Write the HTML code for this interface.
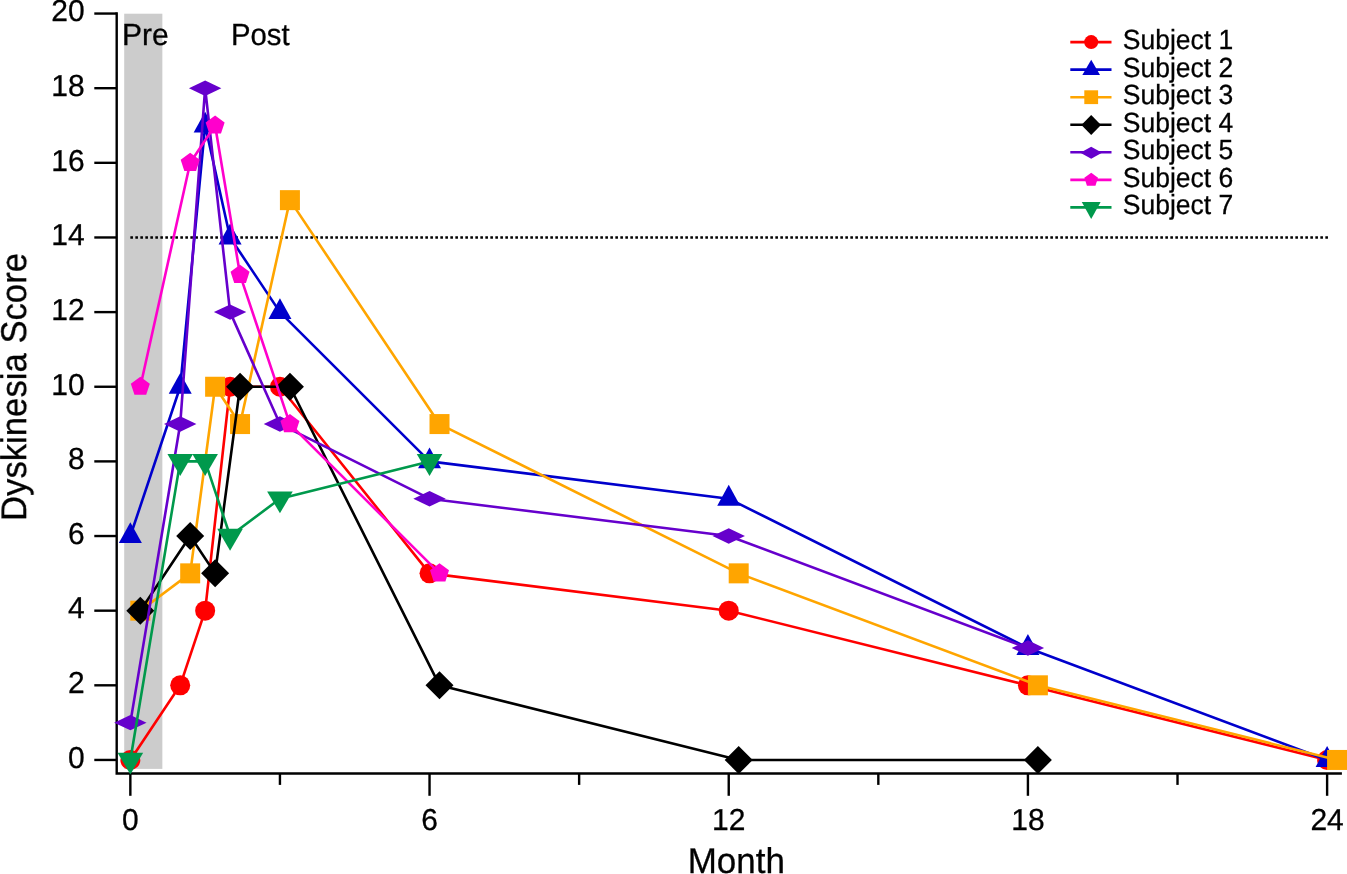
<!DOCTYPE html>
<html><head><meta charset="utf-8"><style>
html,body{margin:0;padding:0;background:#fff;}
body{width:1347px;height:874px;overflow:hidden;}
svg{display:block;}
.t{opacity:0.999;}
</style></head><body>
<svg width="1347" height="874" viewBox="0 0 1347 874" font-family="Liberation Sans, sans-serif">
<rect x="124.2" y="13.7" width="38.15" height="755.2" fill="#cccccc"/>
<line x1="130.35" y1="237.47" x2="1328.11" y2="237.47" stroke="#000" stroke-width="2.4" stroke-dasharray="2.6 2.4"/>
<g stroke="#000" stroke-width="2.4" fill="none">
<path d="M116.7,12.35 V774.7 M115.5,773.45 H1341.9"/>
<path d="M94.3,759.95 H116.5"/>
<path d="M94.3,685.31 H116.5"/>
<path d="M94.3,610.67 H116.5"/>
<path d="M94.3,536.03 H116.5"/>
<path d="M94.3,461.39 H116.5"/>
<path d="M94.3,386.75 H116.5"/>
<path d="M94.3,312.11 H116.5"/>
<path d="M94.3,237.47 H116.5"/>
<path d="M94.3,162.83 H116.5"/>
<path d="M94.3,88.19 H116.5"/>
<path d="M94.3,13.55 H116.5"/>
<path d="M130.35,773.5 V795.8"/>
<path d="M429.54,773.5 V795.8"/>
<path d="M728.73,773.5 V795.8"/>
<path d="M1027.92,773.5 V795.8"/>
<path d="M1327.11,773.5 V795.8"/>
<path d="M279.94,773.5 V784.9"/>
<path d="M579.13,773.5 V784.9"/>
<path d="M878.33,773.5 V784.9"/>
<path d="M1177.51,773.5 V784.9"/>
</g>
<polyline points="130.35,759.95 180.22,685.31 205.15,610.67 230.08,386.75 279.94,386.75 429.54,573.35 728.73,610.67 1027.92,685.31 1327.11,759.95" fill="none" stroke="#ff0000" stroke-width="2.6" stroke-linejoin="round"/>
<circle cx="130.35" cy="759.95" r="10" fill="#ff0000"/>
<circle cx="180.22" cy="685.31" r="10" fill="#ff0000"/>
<circle cx="205.15" cy="610.67" r="10" fill="#ff0000"/>
<circle cx="230.08" cy="386.75" r="10" fill="#ff0000"/>
<circle cx="279.94" cy="386.75" r="10" fill="#ff0000"/>
<circle cx="429.54" cy="573.35" r="10" fill="#ff0000"/>
<circle cx="728.73" cy="610.67" r="10" fill="#ff0000"/>
<circle cx="1027.92" cy="685.31" r="10" fill="#ff0000"/>
<circle cx="1327.11" cy="759.95" r="10" fill="#ff0000"/>
<polyline points="130.35,536.03 180.22,386.75 205.15,125.51 230.08,237.47 279.94,312.11 429.54,461.39 728.73,498.71 1027.92,647.99 1327.11,759.95" fill="none" stroke="#0000cc" stroke-width="2.6" stroke-linejoin="round"/>
<polygon points="130.35,522.16 141.85,542.96 118.85,542.96" fill="#0000cc"/>
<polygon points="180.22,372.88 191.72,393.68 168.72,393.68" fill="#0000cc"/>
<polygon points="205.15,111.64 216.65,132.44 193.65,132.44" fill="#0000cc"/>
<polygon points="230.08,223.6 241.58,244.4 218.58,244.4" fill="#0000cc"/>
<polygon points="279.94,298.24 291.44,319.04 268.44,319.04" fill="#0000cc"/>
<polygon points="429.54,447.52 441.04,468.32 418.04,468.32" fill="#0000cc"/>
<polygon points="728.73,484.84 740.23,505.64 717.23,505.64" fill="#0000cc"/>
<polygon points="1027.92,634.12 1039.42,654.92 1016.42,654.92" fill="#0000cc"/>
<polygon points="1327.11,746.08 1338.61,766.88 1315.61,766.88" fill="#0000cc"/>
<polyline points="140.32,610.67 190.19,573.35 215.12,386.75 240.05,424.07 289.92,200.15 439.51,424.07 738.7,573.35 1037.89,685.31 1337.08,759.95" fill="none" stroke="#ffa500" stroke-width="2.6" stroke-linejoin="round"/>
<rect x="130.32" y="600.67" width="20" height="20" fill="#ffa500"/>
<rect x="180.19" y="563.35" width="20" height="20" fill="#ffa500"/>
<rect x="205.12" y="376.75" width="20" height="20" fill="#ffa500"/>
<rect x="230.05" y="414.07" width="20" height="20" fill="#ffa500"/>
<rect x="279.92" y="190.15" width="20" height="20" fill="#ffa500"/>
<rect x="429.51" y="414.07" width="20" height="20" fill="#ffa500"/>
<rect x="728.7" y="563.35" width="20" height="20" fill="#ffa500"/>
<rect x="1027.89" y="675.31" width="20" height="20" fill="#ffa500"/>
<rect x="1327.08" y="749.95" width="20" height="20" fill="#ffa500"/>
<polyline points="140.32,610.67 190.19,536.03 215.12,573.35 240.05,386.75 289.92,386.75 439.51,685.31 738.7,759.95 1037.89,759.95" fill="none" stroke="#000000" stroke-width="2.6" stroke-linejoin="round"/>
<polygon points="140.32,596.67 154.32,610.67 140.32,624.67 126.32,610.67" fill="#000000"/>
<polygon points="190.19,522.03 204.19,536.03 190.19,550.03 176.19,536.03" fill="#000000"/>
<polygon points="215.12,559.35 229.12,573.35 215.12,587.35 201.12,573.35" fill="#000000"/>
<polygon points="240.05,372.75 254.05,386.75 240.05,400.75 226.05,386.75" fill="#000000"/>
<polygon points="289.92,372.75 303.92,386.75 289.92,400.75 275.92,386.75" fill="#000000"/>
<polygon points="439.51,671.31 453.51,685.31 439.51,699.31 425.51,685.31" fill="#000000"/>
<polygon points="738.7,745.95 752.7,759.95 738.7,773.95 724.7,759.95" fill="#000000"/>
<polygon points="1037.89,745.95 1051.89,759.95 1037.89,773.95 1023.89,759.95" fill="#000000"/>
<polyline points="130.35,722.63 180.22,424.07 205.15,88.19 230.08,312.11 279.94,424.07 429.54,498.71 728.73,536.03 1027.92,647.99" fill="none" stroke="#6600cc" stroke-width="2.6" stroke-linejoin="round"/>
<polygon points="130.35,714.93 146.55,722.63 130.35,730.33 114.15,722.63" fill="#6600cc"/>
<polygon points="180.22,416.37 196.41,424.07 180.22,431.77 164.02,424.07" fill="#6600cc"/>
<polygon points="205.15,80.49 221.35,88.19 205.15,95.89 188.95,88.19" fill="#6600cc"/>
<polygon points="230.08,304.41 246.28,312.11 230.08,319.81 213.88,312.11" fill="#6600cc"/>
<polygon points="279.94,416.37 296.14,424.07 279.94,431.77 263.75,424.07" fill="#6600cc"/>
<polygon points="429.54,491.01 445.74,498.71 429.54,506.41 413.34,498.71" fill="#6600cc"/>
<polygon points="728.73,528.33 744.93,536.03 728.73,543.73 712.53,536.03" fill="#6600cc"/>
<polygon points="1027.92,640.29 1044.12,647.99 1027.92,655.69 1011.72,647.99" fill="#6600cc"/>
<polyline points="140.32,386.75 190.19,162.83 215.12,125.51 240.05,274.79 289.92,424.07 439.51,573.35" fill="none" stroke="#ff00cc" stroke-width="2.6" stroke-linejoin="round"/>
<polygon points="140.32,376.75 149.83,383.66 146.2,394.84 134.45,394.84 130.81,383.66" fill="#ff00cc"/>
<polygon points="190.19,152.83 199.7,159.74 196.07,170.92 184.31,170.92 180.68,159.74" fill="#ff00cc"/>
<polygon points="215.12,115.51 224.63,122.42 221,133.6 209.24,133.6 205.61,122.42" fill="#ff00cc"/>
<polygon points="240.05,264.79 249.56,271.7 245.93,282.88 234.18,282.88 230.54,271.7" fill="#ff00cc"/>
<polygon points="289.92,414.07 299.43,420.98 295.8,432.16 284.04,432.16 280.41,420.98" fill="#ff00cc"/>
<polygon points="439.51,563.35 449.02,570.26 445.39,581.44 433.64,581.44 430,570.26" fill="#ff00cc"/>
<polyline points="130.35,759.95 180.22,461.39 205.15,461.39 230.08,536.03 279.94,498.71 429.54,461.39" fill="none" stroke="#00994c" stroke-width="2.6" stroke-linejoin="round"/>
<polygon points="130.35,774.55 143.15,752.65 117.55,752.65" fill="#00994c"/>
<polygon points="180.22,475.99 193.02,454.09 167.41,454.09" fill="#00994c"/>
<polygon points="205.15,475.99 217.95,454.09 192.35,454.09" fill="#00994c"/>
<polygon points="230.08,550.63 242.88,528.73 217.28,528.73" fill="#00994c"/>
<polygon points="279.94,513.31 292.75,491.41 267.14,491.41" fill="#00994c"/>
<polygon points="429.54,475.99 442.34,454.09 416.74,454.09" fill="#00994c"/>
<g class="t" text-rendering="geometricPrecision" font-family="Liberation Sans" fill="#000" stroke="#000" stroke-width="0.3">
<text x="84.6" y="768" font-size="30.3" textLength="16.68" lengthAdjust="spacingAndGlyphs" text-anchor="end">0</text>
<text x="84.6" y="693" font-size="30.3" textLength="16.68" lengthAdjust="spacingAndGlyphs" text-anchor="end">2</text>
<text x="84.6" y="618" font-size="30.3" textLength="16.68" lengthAdjust="spacingAndGlyphs" text-anchor="end">4</text>
<text x="84.6" y="544" font-size="30.3" textLength="16.68" lengthAdjust="spacingAndGlyphs" text-anchor="end">6</text>
<text x="84.6" y="469" font-size="30.3" textLength="16.68" lengthAdjust="spacingAndGlyphs" text-anchor="end">8</text>
<text x="84.6" y="395" font-size="30.3" textLength="33.36" lengthAdjust="spacingAndGlyphs" text-anchor="end">10</text>
<text x="84.6" y="320" font-size="30.3" textLength="33.36" lengthAdjust="spacingAndGlyphs" text-anchor="end">12</text>
<text x="84.6" y="245" font-size="30.3" textLength="33.36" lengthAdjust="spacingAndGlyphs" text-anchor="end">14</text>
<text x="84.6" y="171" font-size="30.3" textLength="33.36" lengthAdjust="spacingAndGlyphs" text-anchor="end">16</text>
<text x="84.6" y="96" font-size="30.3" textLength="33.36" lengthAdjust="spacingAndGlyphs" text-anchor="end">18</text>
<text x="84.6" y="21" font-size="30.3" textLength="33.36" lengthAdjust="spacingAndGlyphs" text-anchor="end">20</text>
<text x="130.35" y="830" font-size="30.3" textLength="16.68" lengthAdjust="spacingAndGlyphs" text-anchor="middle">0</text>
<text x="429.54" y="830" font-size="30.3" textLength="16.68" lengthAdjust="spacingAndGlyphs" text-anchor="middle">6</text>
<text x="728.73" y="830" font-size="30.3" textLength="33.36" lengthAdjust="spacingAndGlyphs" text-anchor="middle">12</text>
<text x="1027.92" y="830" font-size="30.3" textLength="33.36" lengthAdjust="spacingAndGlyphs" text-anchor="middle">18</text>
<text x="1327.11" y="830" font-size="30.3" textLength="33.36" lengthAdjust="spacingAndGlyphs" text-anchor="middle">24</text>
<text x="122" y="44.75" font-size="30.5" textLength="46.68" lengthAdjust="spacingAndGlyphs" text-anchor="start">Pre</text>
<text x="231" y="44.75" font-size="30.5" textLength="58.63" lengthAdjust="spacingAndGlyphs" text-anchor="start">Post</text>
<text x="736.3" y="873" font-size="35.8" textLength="97.27" lengthAdjust="spacingAndGlyphs" text-anchor="middle">Month</text>
<g transform="translate(26.1,387) rotate(-90)"><text x="0" y="0" font-size="35.8" textLength="268.02" lengthAdjust="spacingAndGlyphs" text-anchor="middle">Dyskinesia Score</text></g>
<text x="1122.8" y="49.05" font-size="27.6" textLength="110.48" lengthAdjust="spacingAndGlyphs" text-anchor="start">Subject 1</text>
<text x="1122.8" y="76.6" font-size="27.6" textLength="110.48" lengthAdjust="spacingAndGlyphs" text-anchor="start">Subject 2</text>
<text x="1122.8" y="104.15" font-size="27.6" textLength="110.48" lengthAdjust="spacingAndGlyphs" text-anchor="start">Subject 3</text>
<text x="1122.8" y="131.7" font-size="27.6" textLength="110.48" lengthAdjust="spacingAndGlyphs" text-anchor="start">Subject 4</text>
<text x="1122.8" y="159.25" font-size="27.6" textLength="110.48" lengthAdjust="spacingAndGlyphs" text-anchor="start">Subject 5</text>
<text x="1122.8" y="186.8" font-size="27.6" textLength="110.48" lengthAdjust="spacingAndGlyphs" text-anchor="start">Subject 6</text>
<text x="1122.8" y="214.35" font-size="27.6" textLength="110.48" lengthAdjust="spacingAndGlyphs" text-anchor="start">Subject 7</text>
</g>
<line x1="1070.3" y1="42.1" x2="1111.5" y2="42.1" stroke="#ff0000" stroke-width="2.6"/>
<circle cx="1091.2" cy="42.1" r="7" fill="#ff0000"/>
<line x1="1070.3" y1="69.65" x2="1111.5" y2="69.65" stroke="#0000cc" stroke-width="2.6"/>
<polygon points="1091.2,59.8 1100.05,75 1082.35,75" fill="#0000cc"/>
<line x1="1070.3" y1="97.2" x2="1111.5" y2="97.2" stroke="#ffa500" stroke-width="2.6"/>
<rect x="1084.3" y="90.3" width="13.8" height="13.8" fill="#ffa500"/>
<line x1="1070.3" y1="124.75" x2="1111.5" y2="124.75" stroke="#000000" stroke-width="2.6"/>
<polygon points="1091.2,114.9 1101,125 1091.2,135.1 1081.4,125" fill="#000000"/>
<line x1="1070.3" y1="152.3" x2="1111.5" y2="152.3" stroke="#6600cc" stroke-width="2.6"/>
<polygon points="1091.2,146.65 1102,152.65 1091.2,158.65 1080.4,152.65" fill="#6600cc"/>
<line x1="1070.3" y1="179.85" x2="1111.5" y2="179.85" stroke="#ff00cc" stroke-width="2.6"/>
<polygon points="1091.2,172.65 1098.05,177.63 1095.43,185.67 1086.97,185.67 1084.35,177.63" fill="#ff00cc"/>
<line x1="1070.3" y1="207.4" x2="1111.5" y2="207.4" stroke="#00994c" stroke-width="2.6"/>
<polygon points="1091.2,218.98 1100.65,201.98 1081.75,201.98" fill="#00994c"/>
</svg>
</body></html>
